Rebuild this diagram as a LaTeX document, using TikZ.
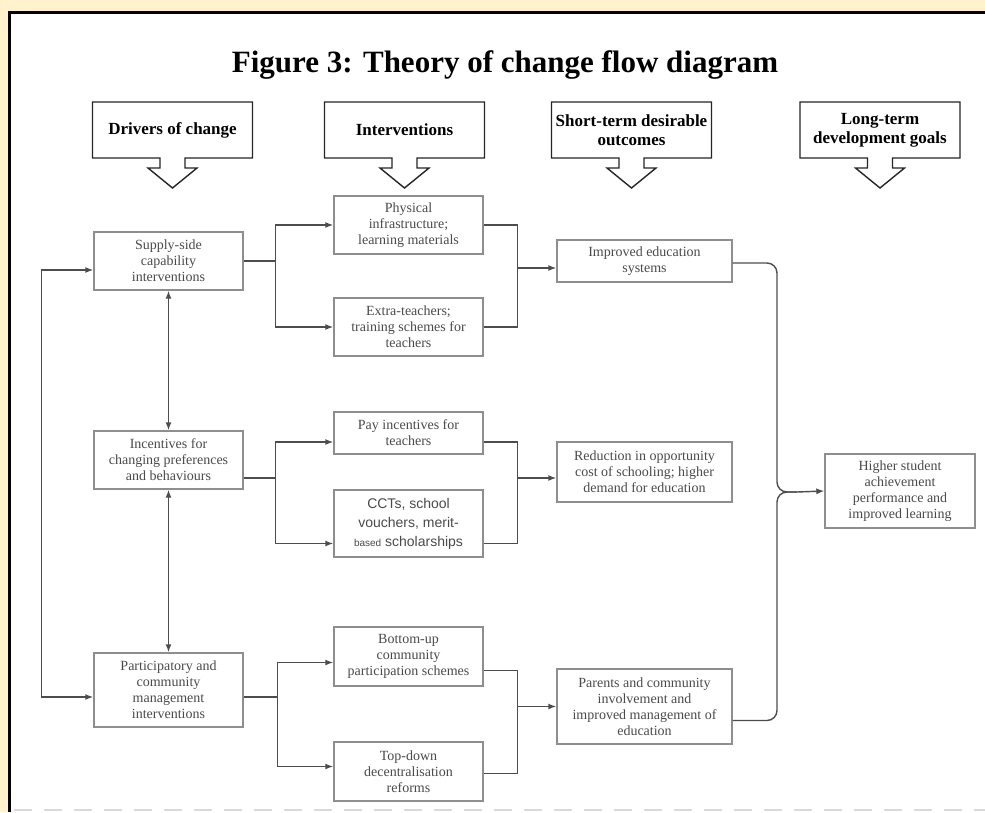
\documentclass[tikz,border=0pt]{standalone}
\usepackage{fontspec}
\setmainfont{Liberation Serif}
\newfontfamily\cctfont{Liberation Sans}
\usetikzlibrary{arrows.meta}
\definecolor{pagebg}{HTML}{FFF2CC}
\definecolor{boxline}{HTML}{8E8E8E}
\definecolor{boxtext}{HTML}{4A4A4A}
\definecolor{linkline}{HTML}{4D4D4D}
\begin{document}
\begin{tikzpicture}[x=1pt,y=-1pt,>={Latex[length=8pt,width=6pt]},
    box/.style={draw=boxline,line width=1.4pt,fill=white,text=boxtext,align=center,inner sep=0pt,font=\fontsize{14}{16}\selectfont},
    narrow/.style={box,minimum width=149pt},
    wide/.style={box,minimum width=175pt},
    link/.style={draw=linkline,line width=1.4pt},
    hdrbox/.style={draw=black!85,line width=1.4pt,fill=white,line join=miter},
    hdrtext/.style={align=center,font=\bfseries\fontsize{17}{19}\selectfont}]
    \fill[pagebg] (0,0) rectangle (985,812);
    \useasboundingbox (0,0) rectangle (985,812);
    \fill[white] (9,12) rectangle (985,812);
    \draw[line width=2.5pt] (9.25,812) -- (9.25,12.25) -- (985,12.25);
    \draw[gray!30,line width=2pt,dash pattern=on 18pt off 12pt] (14,810) -- (985,810);
    \node[font=\bfseries\fontsize{31}{36}\selectfont] (title) at (505,65) {Figure 3: Theory of change flow diagram};
    \foreach \cx/\lbl [count=\i] in {172.5/{Drivers of change},404.5/{Interventions},631.5/{Short-term desirable\\outcomes},880/{Long-term\\development goals}} {
        \draw[hdrbox] ({\cx-80},102) -- ({\cx+80},102) -- ({\cx+80},158) -- ({\cx+12.5},158) -- ({\cx+12.5},168) -- ({\cx+24.5},168) -- (\cx,188) -- ({\cx-24.5},168) -- ({\cx-12.5},168) -- ({\cx-12.5},158) -- ({\cx-80},158) -- cycle;
        \node[hdrtext] (hdr\i) at (\cx,130) {\lbl};
    }
    \node[narrow,minimum height=58pt] (supply) at (168.5,261) {Supply-side\\capability\\interventions};
    \node[narrow,minimum height=58pt] (phys) at (408.5,225) {Physical\\infrastructure;\\learning materials};
    \node[narrow,minimum height=58pt] (extra) at (408.5,327) {Extra-teachers;\\training schemes for\\teachers};
    \node[wide,minimum height=42pt] (improved) at (644.5,261) {Improved education\\systems};
    \node[narrow,minimum height=58pt] (incent) at (168.5,460) {Incentives for\\changing preferences\\and behaviours};
    \node[narrow,minimum height=42pt] (pay) at (408.5,433) {Pay incentives for\\teachers};
    \node[narrow,minimum height=67pt,font=\cctfont\fontsize{14}{19}\selectfont] (cct) at (408.5,523.5) {CCTs, school\\vouchers, merit-\\{\fontsize{10}{12}\selectfont based} scholarships};
    \node[wide,minimum height=60pt] (reduction) at (644.5,472) {Reduction in opportunity\\cost of schooling; higher\\demand for education};
    \node[box,minimum width=150pt,minimum height=74pt] (higher) at (900,491) {Higher student\\achievement\\performance and\\improved learning};
    \node[narrow,minimum height=74pt] (partic) at (168.5,690) {Participatory and\\community\\management\\interventions};
    \node[narrow,minimum height=59pt] (bottomup) at (408.5,656.5) {Bottom-up\\community\\participation schemes};
    \node[narrow,minimum height=59pt] (topdown) at (408.5,771.5) {Top-down\\decentralisation\\reforms};
    \node[wide,minimum height=75pt] (parents) at (644.5,706.5) {Parents and community\\involvement and\\improved management of\\education};
    \draw[link] (supply.east) -- ++(32,0) coordinate (s1);
    \draw[link,->] (s1) |- (phys.west);
    \draw[link,->] (s1) |- (extra.west);
    \draw[link] (phys.east) -- ++(34,0) coordinate (j1) |- (extra.east);
    \draw[link,->] (j1 |- improved.west) ++(0,7) -- ([yshift=-7pt]improved.west);
    \draw[link] ([yshift=-18pt]incent.east) -- ++(32,0) coordinate (s2);
    \draw[link,->] (s2) |- ([yshift=-9pt]pay.west);
    \draw[link,->] (s2) |- ([yshift=-20pt]cct.west);
    \draw[link] ([yshift=-9pt]pay.east) -- ++(34,0) coordinate (j2) |- ([yshift=-20pt]cct.east);
    \draw[link,->] (j2 |- reduction.west) ++(0,6) -- ([yshift=-6pt]reduction.west);
    \draw[link] ([yshift=-7pt]partic.east) -- ++(34,0) coordinate (s3);
    \draw[link,->] (s3) |- ([yshift=-6pt]bottomup.west);
    \draw[link,->] (s3) |- ([yshift=5pt]topdown.west);
    \draw[link] ([yshift=-14pt]bottomup.east) -- ++(34,0) coordinate (j3) |- ([yshift=-2pt]topdown.east);
    \draw[link,->] (j3 |- parents.west) -- (parents.west);
    \draw[link,<->] (supply.south) -- (incent.north);
    \draw[link,<->] (incent.south) -- (partic.north);
    \draw[link,<->] ([yshift=-9pt]supply.west) -- ++(-52,0) |- ([yshift=-7pt]partic.west);
    \coordinate (spine) at (777,492);
    \coordinate (merge) at (797,492);
    \draw[link,rounded corners=10pt] ([yshift=-2pt]improved.east) -| (spine) -- (merge);
    \draw[link,rounded corners=10pt] ([yshift=-14pt]parents.east) -| (spine) -- (merge);
    \draw[link,->] (merge) -- (higher.west);
\end{tikzpicture}
\end{document}
